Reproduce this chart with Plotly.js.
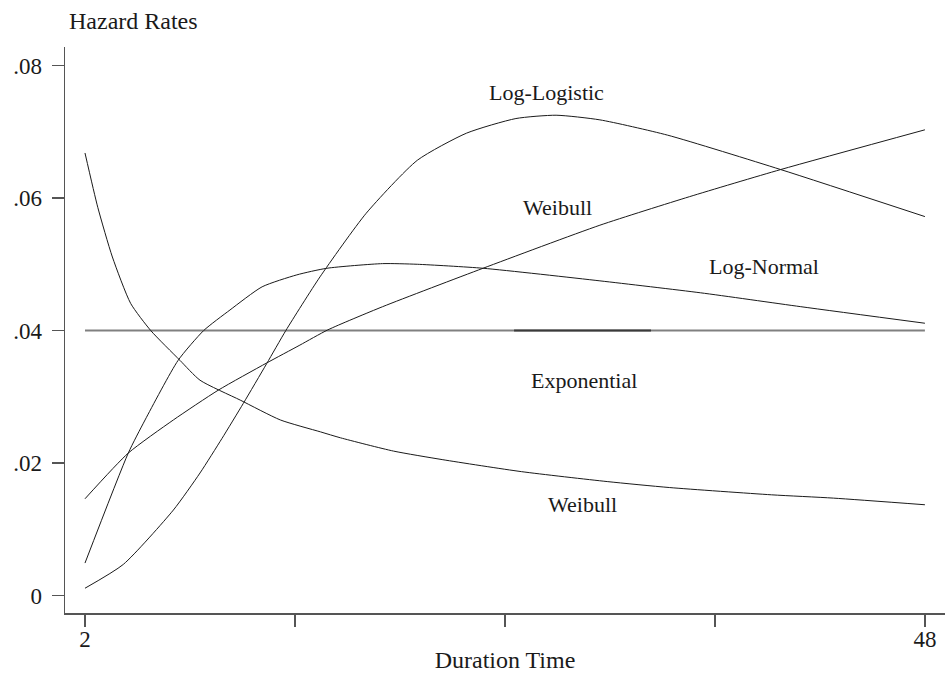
<!DOCTYPE html>
<html>
<head>
<meta charset="utf-8">
<script src="https://cdn.plot.ly/plotly-3.0.1.min.js"></script>
<style>html,body{margin:0;padding:0;background:#fff;}#chart{width:947px;height:679px;}</style>
</head>
<body>
<div id="chart"></div>
<script>
// Decreasing Weibull hazard
const weibullDecX = [2, 2.7, 3.5, 4.5, 5.6, 7.2, 8.3, 10.5, 12.7, 14.9, 16, 18.9, 21.6, 25.9, 30.6, 34, 39.6, 43, 48];
const weibullDecY = [0.0668, 0.0586, 0.0511, 0.0441, 0.0400, 0.0355, 0.0325, 0.0295, 0.0265, 0.0247, 0.0238, 0.0218, 0.0205, 0.0187, 0.0172, 0.0163, 0.0152, 0.0147, 0.0137];

// Increasing Weibull hazard
const weibullIncX = [2, 4.37, 6.84, 9.3, 11.95, 13.77, 15.3, 18.3, 23.8, 30.2, 35.1, 40.1, 48];
const weibullIncY = [0.0146, 0.0215, 0.0265, 0.0310, 0.0351, 0.0378, 0.0401, 0.0436, 0.0494, 0.0559, 0.0602, 0.0643, 0.0703];

// Log-Normal hazard
const logNormalX = [2, 4.37, 5.29, 7.1, 8.5, 9.94, 11.7, 13.6, 15.25, 18.3, 20.2, 23.8, 30.2, 35.7, 41.2, 48];
const logNormalY = [0.0049, 0.0215, 0.0265, 0.0355, 0.0400, 0.0431, 0.0466, 0.0484, 0.0494, 0.0501, 0.0500, 0.0494, 0.0475, 0.0457, 0.0436, 0.0411];

// Log-Logistic hazard
const logLogisticX = [2, 4.1, 6.84, 8.3, 9.5, 10.67, 11.95, 13.0, 14.87, 17.4, 20.2, 22.9, 25.6, 27.8, 30.2, 33.9, 40.1, 48];
const logLogisticY = [0.0011, 0.0047, 0.0129, 0.0185, 0.0237, 0.0290, 0.0350, 0.0400, 0.0481, 0.0577, 0.0657, 0.0698, 0.0720, 0.0725, 0.0718, 0.0695, 0.0643, 0.0572];

// Exponential (constant) hazard
const exponentialX = [2, 48];
const exponentialY = [0.04, 0.04];
const exponentialDarkX = [25.5, 33];
const exponentialDarkY = [0.04, 0.04];

// Axis ticks
const xTickVals = [2, 13.5, 25, 36.5, 48];
const xTickText = ['2', '', '', '', '48'];
const yTickVals = [0, 0.02, 0.04, 0.06, 0.08];
const yTickText = ['0', '.02', '.04', '.06', '.08'];

const FONT = 'Liberation Serif, Times New Roman, serif';
const curve = {color: '#1a1a1a', width: 1, shape: 'spline', smoothing: 0.6};

const traces = [
  {x: exponentialX, y: exponentialY, mode: 'lines', line: {color: '#808080', width: 2}, name: 'Exponential'},
  {x: exponentialDarkX, y: exponentialDarkY, mode: 'lines', line: {color: '#3a3a3a', width: 2}, name: 'Exponential '},
  {x: weibullDecX, y: weibullDecY, mode: 'lines', line: curve, name: 'Weibull (decreasing)'},
  {x: weibullIncX, y: weibullIncY, mode: 'lines', line: curve, name: 'Weibull (increasing)'},
  {x: logNormalX, y: logNormalY, mode: 'lines', line: curve, name: 'Log-Normal'},
  {x: logLogisticX, y: logLogisticY, mode: 'lines', line: curve, name: 'Log-Logistic'}
];

const lbl = (text, x, y) => ({text: text, x: x, y: y, xref: 'x', yref: 'y', showarrow: false,
  font: {family: FONT, size: 22, color: '#1a1a1a'}, xanchor: 'center', yanchor: 'middle'});

const layout = {
  width: 947, height: 679,
  margin: {l: 65, r: 2, t: 47, b: 66},
  paper_bgcolor: '#ffffff', plot_bgcolor: '#ffffff',
  showlegend: false,
  font: {family: FONT, size: 23, color: '#1a1a1a'},
  xaxis: {
    range: [0.905, 49.1], showgrid: false, zeroline: false,
    showline: true, linecolor: '#555', linewidth: 1.5,
    ticks: 'outside', ticklen: 12, tickwidth: 1.5, tickcolor: '#555',
    tickvals: xTickVals, ticktext: xTickText, ticklabelstandoff: -7,
    tickfont: {family: FONT, size: 23, color: '#1a1a1a'},
    title: {text: 'Duration Time', font: {family: FONT, size: 24, color: '#1a1a1a'}, standoff: 0},
    automargin: false
  },
  yaxis: {
    range: [-0.00264, 0.0828], showgrid: false, zeroline: false,
    showline: true, linecolor: '#555', linewidth: 1.5,
    ticks: 'outside', ticklen: 12, tickwidth: 1.5, tickcolor: '#555',
    tickvals: yTickVals, ticktext: yTickText, ticklabelstandoff: 5,
    tickfont: {family: FONT, size: 23, color: '#1a1a1a'},
    automargin: false
  },
  annotations: [
    {text: 'Hazard Rates', xref: 'paper', yref: 'paper', x: 0, y: 1.046, xshift: 2,
     xanchor: 'left', yanchor: 'middle', showarrow: false,
     font: {family: FONT, size: 24, color: '#1a1a1a'}},
    lbl('Log-Logistic', 27.28, 0.0760),
    lbl('Weibull', 27.88, 0.0585),
    lbl('Log-Normal', 39.18, 0.0496),
    lbl('Exponential', 29.33, 0.0324),
    lbl('Weibull', 29.27, 0.0138)
  ]
};

Plotly.newPlot('chart', traces, layout, {displayModeBar: false, staticPlot: true});
</script>
</body>
</html>
